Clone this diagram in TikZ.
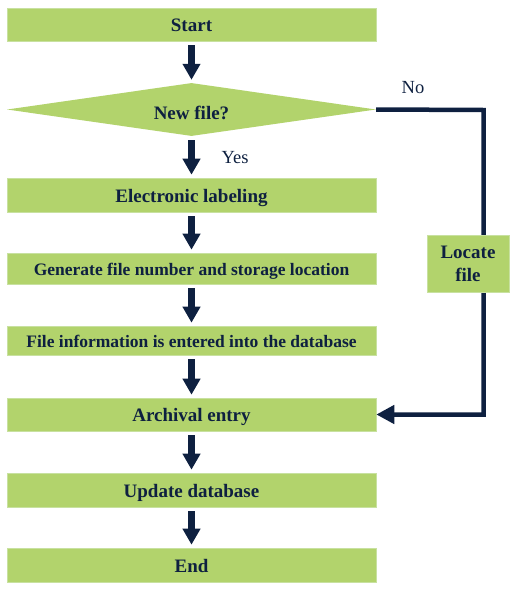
\documentclass[tikz,border=0pt]{standalone}
\usepackage{fontspec}
\setmainfont{Liberation Serif}
\usetikzlibrary{arrows.meta,shapes.geometric}
\definecolor{boxgreen}{RGB}{178,211,108}
\definecolor{boxedge}{RGB}{200,225,160}
\definecolor{navy}{RGB}{14,32,64}
\tikzset{
  stepbox/.style={rectangle, fill=boxgreen, draw=boxedge, line width=0.6pt, minimum width=369pt, inner sep=0pt,
    text height=14pt, text depth=0pt,
    text=navy, font=\fontsize{19}{23}\selectfont\bfseries},
  smalltext/.style={font=\fontsize{17.5}{21}\selectfont\bfseries, text height=13pt},
  decbox/.style={diamond, aspect=7, fill=boxgreen, minimum width=369pt, minimum height=53pt, inner sep=0pt,
    text height=19pt, text depth=0pt,
    text=navy, font=\fontsize{19}{23}\selectfont\bfseries},
  sidebox/.style={rectangle, fill=boxgreen, draw=boxedge, line width=0.6pt, minimum width=82pt, minimum height=57pt,
    inner sep=0pt, align=center, text=navy, font=\fontsize{19}{23}\selectfont\bfseries},
  downarrow/.style={draw=navy, line width=7pt, -{Triangle[width=17pt,length=16pt]}, shorten <=4pt, shorten >=3pt},
  noline/.style={draw=navy, line width=4.5pt, -{Triangle[width=18pt,length=18pt]}},
  lbl/.style={text=navy, font=\fontsize{18.5}{22}\selectfont}
}
\begin{document}
\begin{tikzpicture}[x=1pt,y=-1pt]
\useasboundingbox (0,0) rectangle (518,600);
\node[stepbox, minimum height=33pt] (start) at (191.5,24.5) {Start};
\node[decbox] (dec) at (191.5,109.5) {New file?};
\node[stepbox, minimum height=34pt] (elab) at (191.5,195) {Electronic labeling};
\node[stepbox, smalltext, minimum height=31pt] (gen) at (191.5,268.5) {Generate file number and storage location};
\node[stepbox, smalltext, minimum height=29pt] (finfo) at (191.5,340.5) {File information is entered into the database};
\node[stepbox, minimum height=33pt] (arch) at (191.5,414.5) {Archival entry};
\node[stepbox, minimum height=34pt] (upd) at (191.5,490) {Update database};
\node[stepbox, minimum height=34pt] (end) at (191.5,565) {End};

\draw[downarrow] (start) -- (dec);
\draw[downarrow] (dec) -- (elab);
\draw[downarrow] (elab) -- (gen);
\draw[downarrow] (gen) -- (finfo);
\draw[downarrow] (finfo) -- (arch);
\draw[downarrow] (arch) -- (upd);
\draw[downarrow] (upd) -- (end);

\node[lbl] (yes) at (235,158) {Yes};
\node[lbl] (no) at (413,88) {No};

\coordinate (c1) at (483.5,110);
\coordinate (c2) at (483.5,414.5);
\draw[noline] (dec.east) -- (c1) -- (c2) -- (arch.east);

\node[sidebox] (loc) at (468,263.5) {Locate\\file};
\end{tikzpicture}
\end{document}
